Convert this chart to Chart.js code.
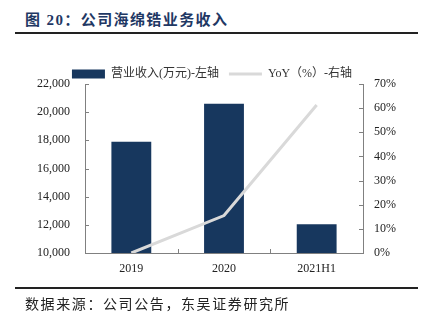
<!DOCTYPE html>
<html>
<head>
<meta charset="utf-8">
<script src="https://cdn.jsdelivr.net/npm/chart.js@4.4.0/dist/chart.umd.min.js"></script>
<style>
  body { margin: 0; background: #fff; width: 424px; height: 325px; overflow: hidden; position: relative; }
  #title {
    position: absolute; left: 25px; top: 11px;
    font-family: 'Liberation Serif', 'Noto Sans CJK SC', serif;
    font-size: 15px; font-weight: bold; color: #1f3864; letter-spacing: 1.4px;
    white-space: nowrap; line-height: 18px;
  }
  .rule { position: absolute; left: 15px; width: 403px; height: 2px; background: #222; }
  #source {
    position: absolute; left: 25px; top: 294px;
    font-family: 'Noto Sans CJK SC', sans-serif;
    font-size: 14px; color: #222; letter-spacing: 1.6px;
    white-space: nowrap; line-height: 18px;
  }
  #wrap { position: absolute; left: 0; top: 0; width: 424px; height: 325px; }
</style>
</head>
<body>
<div id="title">图 20：公司海绵锆业务收入</div>
<div class="rule" style="top:32px"></div>
<div id="wrap"><canvas id="chart"></canvas></div>
<div class="rule" style="top:287px"></div>
<div id="source">数据来源：公司公告，东吴证券研究所</div>

<script>
// 数据
const categories = ['2019', '2020', '2021H1'];
const revenue = [17900, 20600, 12050];   // 营业收入（万元）
const yoy = [0, 15.5, 61.3];             // YoY（%）

const revenueLabel = '营业收入(万元)-左轴';
const yoyLabel = 'YoY（%）-右轴';

const BAR_COLOR = '#17375e';
const LINE_COLOR = '#d9d9d9';
const AXIS_COLOR = '#808080';
const TEXT_COLOR = '#222';
const TICK_FONT = { family: "'Liberation Serif', 'Times New Roman', serif", size: 12 };

// 图例高度压缩，使图例与绘图区之间的间距接近原图
const legendFix = {
  id: 'legendFix',
  beforeInit(chart) {
    const lg = chart.legend;
    if (!lg) return;
    const fit = lg.fit;
    lg.fit = function () {
      fit.call(this);
      this.height -= 6;
    };
  }
};

// 刻度线朝内
const innerTicks = {
  id: 'innerTicks',
  afterDraw(chart) {
    const ctx = chart.ctx;
    const area = chart.chartArea;
    const len = 4;
    ctx.save();
    ctx.strokeStyle = AXIS_COLOR;
    ctx.lineWidth = 1;
    ctx.beginPath();
    const y = chart.scales.y;
    y.ticks.forEach(t => {
      const py = Math.round(y.getPixelForValue(t.value)) + 0.5;
      ctx.moveTo(area.left, py);
      ctx.lineTo(area.left + len, py);
    });
    const y1 = chart.scales.y1;
    y1.ticks.forEach(t => {
      const py = Math.round(y1.getPixelForValue(t.value)) + 0.5;
      ctx.moveTo(area.right, py);
      ctx.lineTo(area.right - len, py);
    });
    const x = chart.scales.x;
    for (let i = 0; i < categories.length - 1; i++) {
      const px = Math.round((x.getPixelForTick(i) + x.getPixelForTick(i + 1)) / 2) + 0.5;
      ctx.moveTo(px, area.bottom);
      ctx.lineTo(px, area.bottom - len);
    }
    ctx.stroke();
    ctx.restore();
  }
};

new Chart(document.getElementById('chart'), {
  type: 'bar',
  data: {
    labels: categories,
    datasets: [
      {
        type: 'bar',
        label: revenueLabel,
        data: revenue,
        backgroundColor: BAR_COLOR,
        borderWidth: 0,
        barPercentage: 0.43,
        categoryPercentage: 1,
        yAxisID: 'y',
        order: 1
      },
      {
        type: 'line',
        label: yoyLabel,
        data: yoy,
        borderColor: LINE_COLOR,
        backgroundColor: LINE_COLOR,
        borderWidth: 3,
        pointRadius: 0,
        tension: 0,
        yAxisID: 'y1',
        order: 0
      }
    ]
  },
  options: {
    responsive: true,
    maintainAspectRatio: false,
    animation: false,
    layout: { padding: { top: 58, bottom: 42, left: 0, right: 0 } },
    plugins: {
      tooltip: { enabled: false },
      legend: {
        position: 'top',
        labels: {
          font: { family: "'Liberation Serif', 'Noto Sans CJK SC', serif", size: 12 },
          color: '#333',
          usePointStyle: true,
          pointStyleWidth: 33,
          boxHeight: 9,
          padding: 10,
          generateLabels(chart) {
            const items = Chart.defaults.plugins.legend.labels.generateLabels(chart);
            items.forEach(it => {
              if (it.datasetIndex === 0) {
                it.pointStyle = 'rect';
                it.lineWidth = 0;
              } else {
                it.pointStyle = 'line';
                it.strokeStyle = LINE_COLOR;
                it.lineWidth = 3;
              }
            });
            // 按数据集顺序排列：柱在前，线在后
            return items.sort((a, b) => a.datasetIndex - b.datasetIndex);
          }
        }
      }
    },
    scales: {
      x: {
        offset: true,
        grid: { display: false, drawTicks: false },
        border: { display: true, color: AXIS_COLOR },
        ticks: { font: TICK_FONT, color: TEXT_COLOR, padding: 9 },
        afterFit(scale) { scale.height = 30; }
      },
      y: {
        position: 'left',
        min: 10000,
        max: 22000,
        grid: { drawOnChartArea: false, drawTicks: false },
        border: { display: true, color: AXIS_COLOR },
        ticks: {
          stepSize: 2000,
          font: TICK_FONT,
          color: TEXT_COLOR,
          padding: 15,
          callback: v => v.toLocaleString('en-US')
        },
        afterFit(scale) { scale.width = 85; }
      },
      y1: {
        position: 'right',
        min: 0,
        max: 70,
        grid: { drawOnChartArea: false, drawTicks: false },
        border: { display: true, color: AXIS_COLOR },
        ticks: {
          stepSize: 10,
          font: TICK_FONT,
          color: TEXT_COLOR,
          padding: 11,
          callback: v => v + '%'
        },
        afterFit(scale) { scale.width = 61; }
      }
    }
  },
  plugins: [legendFix, innerTicks]
});
</script>
</body>
</html>
